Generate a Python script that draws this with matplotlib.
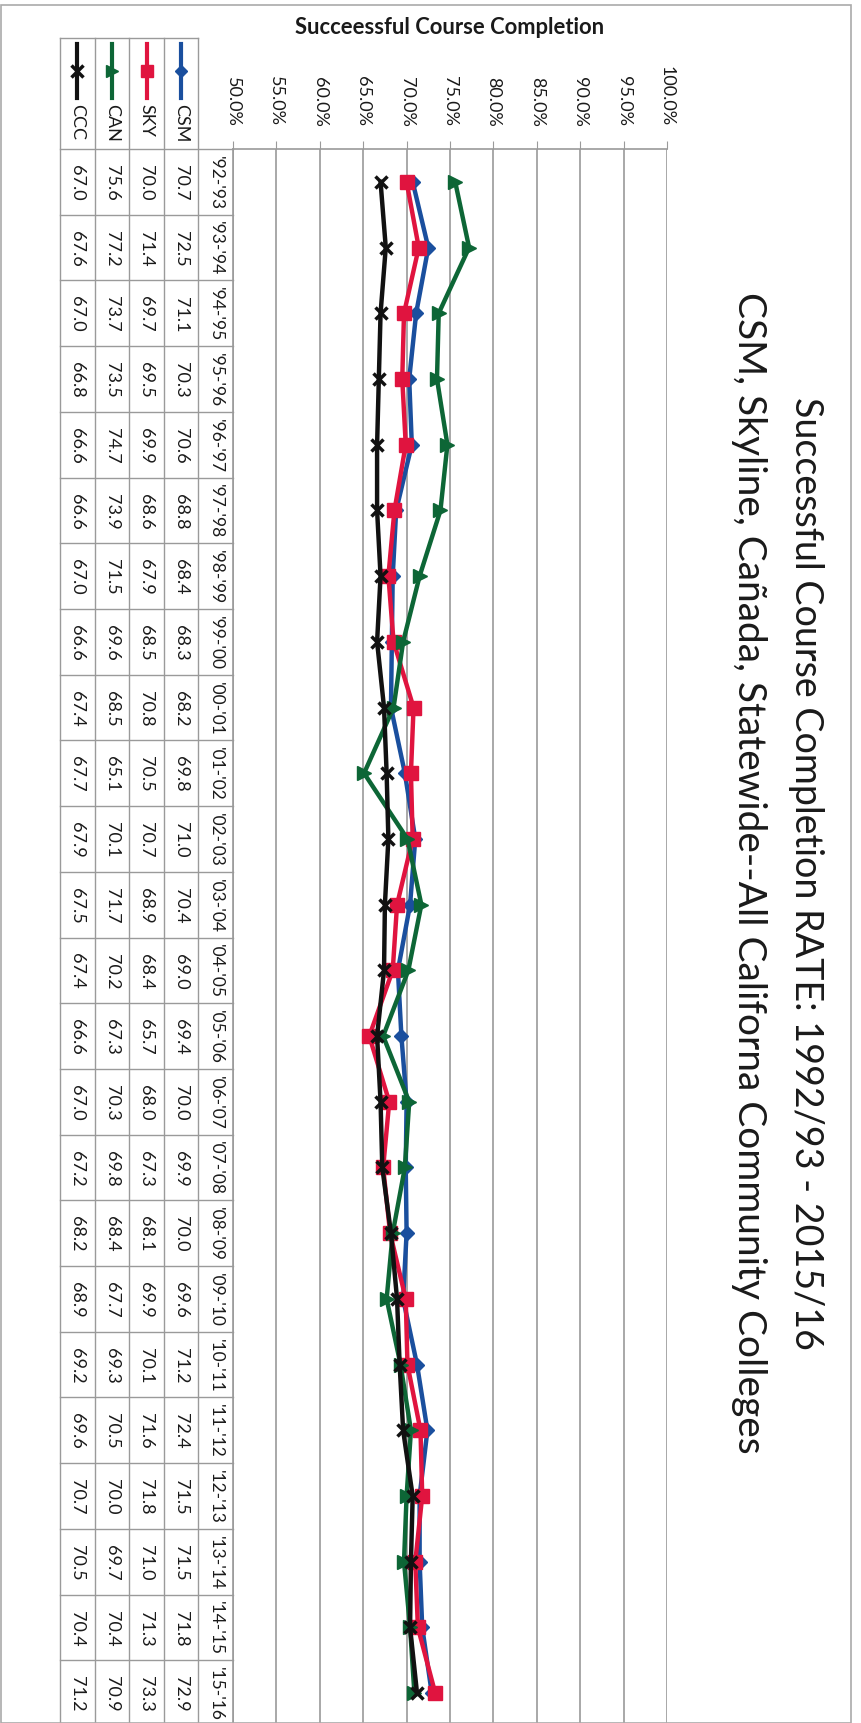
import matplotlib
matplotlib.use('Agg')
import matplotlib.pyplot as plt
from matplotlib.patches import Rectangle

plt.rcParams['font.family'] = ['Lato', 'DejaVu Sans']

years = ["'92-'93", "'93-'94", "'94-'95", "'95-'96", "'96-'97", "'97-'98",
         "'98-'99", "'99-'00", "'00-'01", "'01-'02", "'02-'03", "'03-'04",
         "'04-'05", "'05-'06", "'06-'07", "'07-'08", "'08-'09", "'09-'10",
         "'10-'11", "'11-'12", "'12-'13", "'13-'14", "'14-'15", "'15-'16"]

csm = [70.7, 72.5, 71.1, 70.3, 70.6, 68.8, 68.4, 68.3, 68.2, 69.8, 71.0, 70.4,
       69.0, 69.4, 70.0, 69.9, 70.0, 69.6, 71.2, 72.4, 71.5, 71.5, 71.8, 72.9]
sky = [70.0, 71.4, 69.7, 69.5, 69.9, 68.6, 67.9, 68.5, 70.8, 70.5, 70.7, 68.9,
       68.4, 65.7, 68.0, 67.3, 68.1, 69.9, 70.1, 71.6, 71.8, 71.0, 71.3, 73.3]
can = [75.6, 77.2, 73.7, 73.5, 74.7, 73.9, 71.5, 69.6, 68.5, 65.1, 70.1, 71.7,
       70.2, 67.3, 70.3, 69.8, 68.4, 67.7, 69.3, 70.5, 70.0, 69.7, 70.4, 70.9]
ccc = [67.0, 67.6, 67.0, 66.8, 66.6, 66.6, 67.0, 66.6, 67.4, 67.7, 67.9, 67.5,
       67.4, 66.6, 67.0, 67.2, 68.2, 68.9, 69.2, 69.6, 70.7, 70.5, 70.4, 71.2]

names = ['CSM', 'SKY', 'CAN', 'CCC']
colors = ['#1a4f9e', '#e0143f', '#0d6636', '#111111']
markers = ['D', 's', '>', 'x']
msizes = [7.5, 9.5, 9.5, 9]
pct_ticks = [50, 55, 60, 65, 70, 75, 80, 85, 90, 95, 100]

W, H = 861, 1724
fig = plt.figure(figsize=(W / 100, H / 100), dpi=100)
txt_c = '#1a1a1a'

def fx(px):
    return px / W

def fy(py):
    return 1 - py / H

top_px, bot_px = 150, 1727
n = len(years)
rows = list(range(n))
rp = (bot_px - top_px) / n

def prow(py):
    return -0.5 + (py - top_px) / rp

grid_c = '#9a9a9a'

# main chart (rotated: percent across, years down)
ax = fig.add_axes([fx(233), fy(bot_px), fx(667 - 233), (bot_px - top_px) / H])
series = [csm, sky, can, ccc]
for vals, c, m, ms in zip(series, colors, markers, msizes):
    ax.plot(vals, rows, color=c, lw=3.2, marker=m, ms=ms, mew=2.5 if m == 'x' else 1,
            mec=c, mfc=c, zorder=3)
ax.set_xlim(50, 100)
ax.set_ylim(n - 0.5, -0.5)
ax.set_xticks(pct_ticks)
ax.set_xticklabels([f'{t:.1f}%' for t in pct_ticks], rotation=-90, color=txt_c)
ax.xaxis.tick_top()
ax.tick_params(axis='x', length=6, color=grid_c, labelsize=13, pad=11)
ax.set_yticks([])
ax.grid(axis='x', color=grid_c, lw=1.2)
for s in ['right', 'bottom']:
    ax.spines[s].set_visible(False)
for s in ['top', 'left']:
    ax.spines[s].set_color(grid_c)
    ax.spines[s].set_linewidth(1.2)

# data table on the left
ax_t = fig.add_axes([fx(60), fy(bot_px), fx(233 - 60), (bot_px - top_px) / H])
ax_t.set_xlim(0, 5)
ax_t.set_ylim(n - 0.5, -0.5)
ax_t.axis('off')
line_kw = dict(color=grid_c, lw=1, clip_on=False)
for k in range(n + 1):
    ax_t.plot([0, 5], [k - 0.5, k - 0.5], **line_kw)
ax_t.plot([0, 4], [prow(39), prow(39)], **line_kw)
for c in range(5):
    ax_t.plot([c, c], [prow(39), n - 0.5], **line_kw)

for i, name in enumerate(names):
    col = 3 - i
    vals = series[i]
    for r in rows:
        ax_t.text(col + 0.5, r, f'{vals[r]:.1f}', rotation=-90, ha='center',
                  va='center', fontsize=13, color=txt_c)
    # legend key
    ax_t.plot([col + 0.5, col + 0.5], [prow(45), prow(99)], color=colors[i], lw=3,
              clip_on=False)
    ax_t.plot(col + 0.5, prow(72), marker=markers[i], ms=msizes[i] - 1, color=colors[i],
              mew=2.5 if markers[i] == 'x' else 1, clip_on=False)
    ax_t.text(col + 0.5, prow(104), name, rotation=-90, ha='center', va='top',
              fontsize=13, color=txt_c)
for r in rows:
    ax_t.text(4.5, r, years[r], rotation=-90, ha='center', va='center',
              fontsize=12.5, color=txt_c)

# titles
t0 = fig.text(fx(450), fy(27), 'Succeessful Course Completion', ha='center', va='center',
              fontsize=15, fontweight='bold', color=txt_c)
t1 = fig.text(fx(806), fy(873), 'Successful Course Completion RATE: 1992/93 - 2015/16',
              rotation=-90, ha='center', va='center', fontsize=26, color=txt_c)
t2 = fig.text(fx(749), fy(873), 'CSM, Skyline, Cañada, Statewide--All Californa Community Colleges',
              rotation=-90, ha='center', va='center', fontsize=26, color=txt_c)

# size the titles to the lengths seen in the scan
fig.canvas.draw()
for t, length, vertical in [(t0, 309, False), (t1, 953, True), (t2, 1159, True)]:
    ext = t.get_window_extent()
    cur = ext.height if vertical else ext.width
    t.set_fontsize(t.get_fontsize() * length / cur)

fig.add_artist(Rectangle((fx(1), 0), fx(850), fy(6), fill=False, edgecolor='#aaaaaa',
                         lw=1.2, transform=fig.transFigure))

fig.savefig('out.png', dpi=100)
